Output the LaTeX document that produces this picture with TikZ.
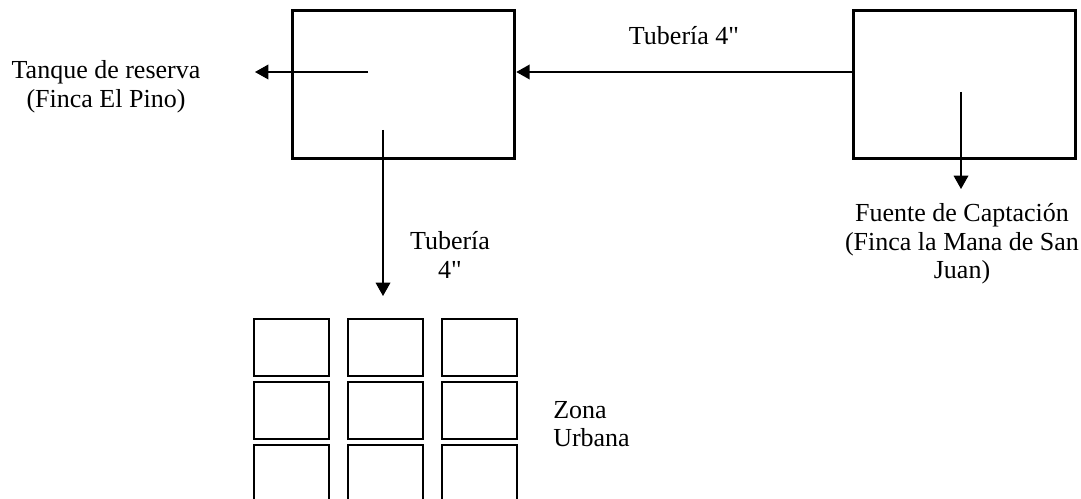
\documentclass[tikz,border=0pt]{standalone}
\usepackage{fontspec}
\newfontfamily\serifa{Liberation Serif}
\usetikzlibrary{arrows.meta}

\begin{document}
\begin{tikzpicture}[x=0.75pt,y=-0.75pt,
    caja/.style={draw,line width=2.2pt,rectangle,minimum width=167pt,minimum height=111.5pt,inner sep=0pt},
    manzana/.style={draw,line width=1.2pt,rectangle,minimum width=56.25pt,minimum height=42.75pt,inner sep=0pt},
    flecha/.style={line width=1pt,-{Triangle[length=10pt,width=11pt]}},
    rotulo/.style={font=\serifa\fontsize{19.5}{21.5}\selectfont,inner sep=0pt,align=center}]
    \clip (0,0) rectangle (1081,499);
    % tanques
    \node[caja] (tanque) at (403.5,84.5) {};
    \node[caja] (fuente) at (964.5,84.5) {};
    % textos
    \node[rotulo] (reserva) at (106,87) {Tanque de reserva\\(Finca El Pino)};
    \node[rotulo] (tubsup) at (684,36) {Tubería 4"};
    \node[rotulo] (tubinf) at (450,255) {Tubería\\4"};
    \node[rotulo] (captacion) at (962,244) {Fuente de Captación\\(Finca la Mana de San\\Juan)};
    \node[rotulo,align=left,anchor=west] (zona) at (553,424) {Zona\\Urbana};
    % puntos de las flechas
    \coordinate (salida) at (368,72);
    \coordinate (llegada) at (255,72);
    \coordinate (bajada) at (383,130);
    \coordinate (urbana) at (383,296);
    \coordinate (capta) at (961,92);
    \coordinate (fin) at (961,189);
    % flechas
    \draw[flecha] (fuente.west |- salida) -- (tanque.east |- salida);
    \draw[flecha] (salida) -- (llegada);
    \draw[flecha] (bajada) -- (urbana);
    \draw[flecha] (capta) -- (fin);
    % manzanas de la zona urbana
    \foreach \fila in {1,2,3}
        \foreach \col in {1,2,3}
            \node[manzana] (m\fila\col) at ({197.5+94*\col},{284.5+63*\fila}) {};
\end{tikzpicture}
\end{document}
